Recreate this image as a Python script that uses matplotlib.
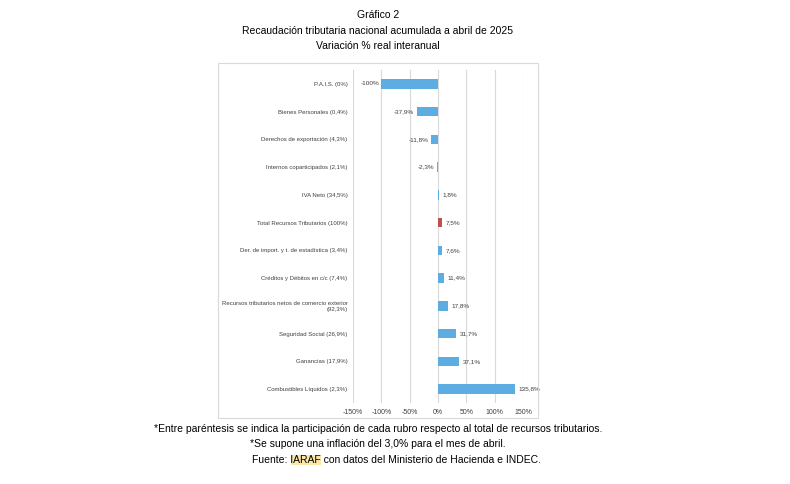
import matplotlib
matplotlib.use("Agg")
import matplotlib.pyplot as plt
from matplotlib.patches import Rectangle

plt.rcParams['font.family'] = ['Liberation Sans', 'DejaVu Sans']

categorias = [
    "P.A.I.S. (0%)",
    "Bienes Personales (0,4%)",
    "Derechos de exportación (4,3%)",
    "Internos coparticipados (2,1%)",
    "IVA Neto (34,5%)",
    "Total Recursos Tributarios (100%)",
    "Der. de import. y t. de estadística (3,4%)",
    "Créditos y Débitos en c/c (7,4%)",
    "Recursos tributarios netos de comercio exterior\n(92,3%)",
    "Seguridad Social (26,9%)",
    "Ganancias (17,9%)",
    "Combustibles Líquidos (2,3%)",
]
variacion = [-100, -37.9, -11.8, -2.3, 1.8, 7.5, 7.6, 11.4, 17.8, 31.7, 37.1, 135.8]
etiquetas = ["-100%", "-37,9%", "-11,8%", "-2,3%", "1,8%", "7,5%", "7,6%",
             "11,4%", "17,8%", "31,7%", "37,1%", "135,8%"]
ticks_x = [-150, -100, -50, 0, 50, 100, 150]
ticks_lbl = ["-150%", "-100%", "-50%", "0%", "50%", "100%", "150%"]

azul = "#5DADE2"
rojo = "#C0504D"
colores = [rojo if c.startswith("Total") else azul for c in categorias]

fig = plt.figure(figsize=(7.9, 4.84), dpi=100)

# marco del gráfico
fig.add_artist(Rectangle((218 / 790, 1 - 418 / 484), 320 / 790, 355 / 484,
                         transform=fig.transFigure, fill=False,
                         edgecolor="#d9d9d9", linewidth=0.8))

ax = fig.add_axes([353 / 790, 1 - 403 / 484, 170 / 790, 333 / 484])
pos = list(range(len(categorias)))
ax.barh(pos, variacion, height=0.35, color=colores, zorder=3)
ax.set_ylim(len(categorias) - 0.5, -0.5)
ax.set_xlim(-150, 150)
ax.set_xticks(ticks_x)
ax.set_xticklabels(ticks_lbl, fontsize=5, color="#404040")
ax.set_yticks(pos)
ax.set_yticklabels(categorias, fontsize=4.3, color="#404040")
ax.tick_params(length=0, pad=4)
ax.grid(axis="x", color="#d9d9d9", linewidth=0.8, zorder=0)
for s in ax.spines.values():
    s.set_visible(False)

for i, (v, t) in enumerate(zip(variacion, etiquetas)):
    if v < 0:
        ax.text(v - 4, i, t, ha="right", va="center", fontsize=4.6, color="#404040")
    else:
        ax.text(v + 6, i, t, ha="left", va="center", fontsize=4.6, color="#404040")

# títulos
fs = 7.5
xc = 378 / 790
fig.text(xc, 1 - 15 / 484, "Gráfico 2", ha="center", va="center", fontsize=fs)
fig.text(xc, 1 - 31 / 484, "Recaudación tributaria nacional acumulada a abril de 2025",
         ha="center", va="center", fontsize=fs)
fig.text(xc, 1 - 46 / 484, "Variación % real interanual", ha="center", va="center", fontsize=fs)

# notas
fig.text(xc, 1 - 429 / 484,
         "*Entre paréntesis se indica la participación de cada rubro respecto al total de recursos tributarios.",
         ha="center", va="center", fontsize=fs)
fig.text(xc, 1 - 444 / 484, "*Se supone una inflación del 3,0% para el mes de abril.",
         ha="center", va="center", fontsize=fs)

fuente = fig.text(397 / 790, 1 - 460 / 484, "Fuente: IARAF con datos del Ministerio de Hacienda e INDEC.",
                  ha="center", va="center", fontsize=fs, zorder=3)
r = fig.canvas.get_renderer()
bb = fuente.get_window_extent(r)
pre = fig.text(0, 0, "Fuente: ", fontsize=fs)
w_pre = pre.get_window_extent(r).width
pre.remove()
mid = fig.text(0, 0, "IARAF", fontsize=fs)
w_mid = mid.get_window_extent(r).width
mid.remove()
fig.add_artist(Rectangle(((bb.x0 + w_pre) / 790, bb.y0 / 484), w_mid / 790, bb.height / 484,
                         transform=fig.transFigure, facecolor="#FCE7A6",
                         edgecolor="none", zorder=1))

fig.savefig("out.png", dpi=100)
